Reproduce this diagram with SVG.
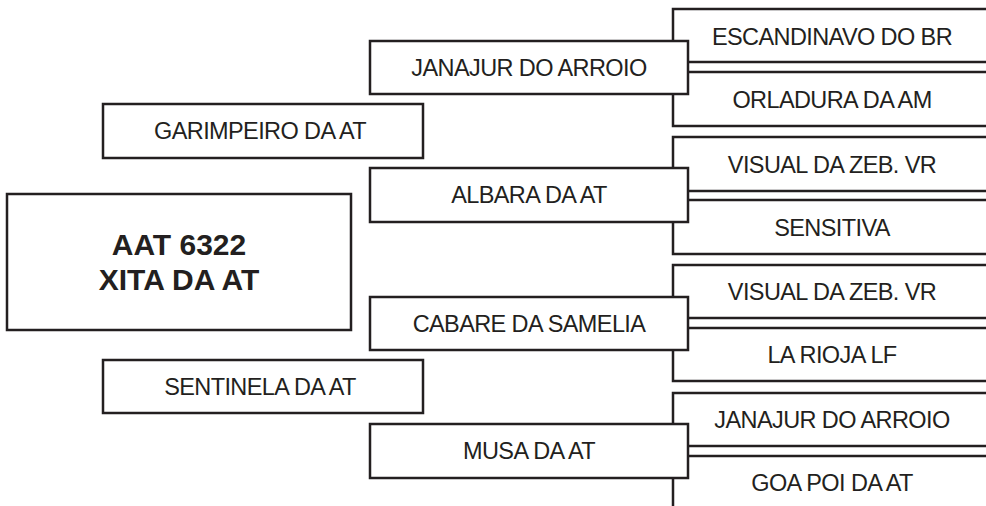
<svg xmlns="http://www.w3.org/2000/svg" width="986" height="506" viewBox="0 0 986 506">
<style>
.box{fill:#fff;stroke:#231f20;stroke-width:2.5}
.t{font-family:"Liberation Sans",Arial,sans-serif;font-size:23.5px;fill:#231f20;text-anchor:middle;letter-spacing:-0.6px}
.b{font-family:"Liberation Sans",Arial,sans-serif;font-size:30px;font-weight:bold;fill:#231f20;text-anchor:middle}
</style>
<rect width="986" height="506" fill="#fff"/>
<g id="r1a"><rect class="box" x="673" y="9" width="340" height="53"/><text class="t" x="832" y="45">ESCANDINAVO DO BR</text></g>
<g id="r1b"><rect class="box" x="673" y="72" width="340" height="54"/><text class="t" x="832" y="108">ORLADURA DA AM</text></g>
<g id="r2a"><rect class="box" x="673" y="137" width="340" height="54"/><text class="t" x="832" y="173">VISUAL DA ZEB. VR</text></g>
<g id="r2b"><rect class="box" x="673" y="200" width="340" height="54"/><text class="t" x="832" y="236">SENSITIVA</text></g>
<g id="r3a"><rect class="box" x="673" y="265" width="340" height="53"/><text class="t" x="832" y="300">VISUAL DA ZEB. VR</text></g>
<g id="r3b"><rect class="box" x="673" y="328" width="340" height="53"/><text class="t" x="832" y="363">LA RIOJA LF</text></g>
<g id="r4a"><rect class="box" x="673" y="393" width="340" height="53"/><text class="t" x="832" y="428">JANAJUR DO ARROIO</text></g>
<g id="r4b"><rect class="box" x="673" y="456" width="340" height="60"/><text class="t" x="832" y="491">GOA POI DA AT</text></g>
<g id="m1"><rect class="box" x="370" y="41" width="318" height="53"/><text class="t" x="529" y="76">JANAJUR DO ARROIO</text></g>
<g id="m2"><rect class="box" x="370" y="168" width="318" height="54"/><text class="t" x="529" y="203">ALBARA DA AT</text></g>
<g id="m3"><rect class="box" x="370" y="297" width="318" height="53"/><text class="t" x="529" y="332">CABARE DA SAMELIA</text></g>
<g id="m4"><rect class="box" x="370" y="424" width="318" height="54"/><text class="t" x="529" y="459">MUSA DA AT</text></g>
<g id="l1"><rect class="box" x="103" y="104" width="320" height="54"/><text class="t" x="260" y="139">GARIMPEIRO DA AT</text></g>
<g id="l2"><rect class="box" x="103" y="360" width="320" height="53"/><text class="t" x="260" y="395">SENTINELA DA AT</text></g>
<g id="main"><rect class="box" x="7" y="194" width="344" height="136"/><text class="b" x="179" y="255">AAT 6322</text><text class="b" x="179" y="290">XITA DA AT</text></g>
</svg>
